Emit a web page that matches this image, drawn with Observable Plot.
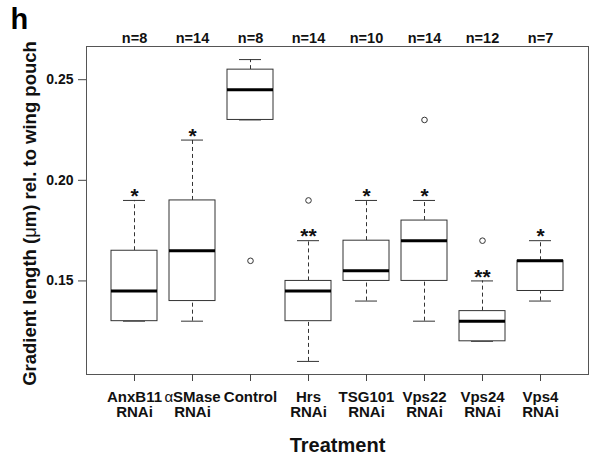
<!DOCTYPE html>
<html>
<head>
<meta charset="utf-8">
<script src="https://cdn.jsdelivr.net/npm/d3@7"></script>
<script src="https://cdn.jsdelivr.net/npm/@observablehq/plot@0.6"></script>
<style>
  html, body { margin: 0; padding: 0; background: #ffffff; }
</style>
</head>
<body>
<div id="chart"></div>
<script>
// ---- data ----
const treatments  = ["AnxB11", "αSMase", "Control", "Hrs", "TSG101", "Vps22", "Vps24", "Vps4"];
const tickLabels  = ["AnxB11\nRNAi", "αSMase\nRNAi", "Control", "Hrs\nRNAi", "TSG101\nRNAi", "Vps22\nRNAi", "Vps24\nRNAi", "Vps4\nRNAi"];
const nCounts     = [8, 14, 8, 14, 10, 14, 12, 7];
const whiskerLow  = [0.13, 0.13, 0.23, 0.11, 0.14, 0.13, 0.12, 0.14];
const q1          = [0.13, 0.14, 0.23, 0.13, 0.15, 0.15, 0.12, 0.145];
const medians     = [0.145, 0.165, 0.245, 0.145, 0.155, 0.17, 0.13, 0.16];
const q3          = [0.165, 0.19, 0.255, 0.15, 0.17, 0.18, 0.135, 0.16];
const whiskerHigh = [0.19, 0.22, 0.26, 0.17, 0.19, 0.19, 0.15, 0.17];
const significance = ["*", "*", "", "**", "*", "*", "**", "*"];
const outlierTreatment = ["Control", "Hrs", "Vps22", "Vps24"];
const outlierValue     = [0.16, 0.19, 0.23, 0.17];
const yTicks = [0.15, 0.20, 0.25];
const yTitle = "Gradient length (μm) rel. to wing pouch";
const xTitle = "Treatment";
const panelLetter = "h";

// ---- tables built from the arrays ----
const stats = treatments.map((t, i) => ({
  treatment: t, lo: whiskerLow[i], q1: q1[i], med: medians[i], q3: q3[i], hi: whiskerHigh[i],
  sig: significance[i], n: nCounts[i], label: tickLabels[i]
}));
const outliers = outlierTreatment.map((t, i) => ({treatment: t, value: outlierValue[i]}));

const FONT = "'Liberation Sans', Arial, Helvetica, sans-serif";
const boxStroke = "#333";

const chart = Plot.plot({
  width: 594,
  height: 459,
  marginLeft: 86,
  marginRight: 6,
  marginTop: 46,
  marginBottom: 85,
  style: {fontFamily: FONT, background: "#ffffff", color: "#111"},
  x: {type: "band", domain: treatments, paddingInner: 0.2, paddingOuter: 0.42, align: 0.5, axis: null},
  y: {domain: [0.1035, 0.2665], axis: null},
  marks: [
    Plot.frame({stroke: "#555", strokeWidth: 1}),
    // y axis
    Plot.axisY({
      ticks: yTicks, tickFormat: d3.format(".2f"), tickSize: 8, tickPadding: 5,
      fontSize: 14, fontWeight: "bold", stroke: "#444", label: null
    }),
    // bottom axis with two-line labels
    Plot.axisX({
      anchor: "bottom", tickSize: 7, tickPadding: 9,
      tickFormat: d => tickLabels[treatments.indexOf(d)],
      fontSize: 15, fontWeight: "bold", stroke: "#444", label: null, lineHeight: 1.05
    }),
    // top axis: sample sizes
    Plot.axisX({
      anchor: "top", tickSize: 0, tickPadding: 4,
      tickFormat: d => "n=" + nCounts[treatments.indexOf(d)],
      fontSize: 14.5, fontWeight: "bold", label: null
    }),
    // whiskers (dashed)
    Plot.ruleX(stats, {x: "treatment", y1: "lo", y2: "q1", stroke: boxStroke, strokeWidth: 1, strokeDasharray: "4,3"}),
    Plot.ruleX(stats, {x: "treatment", y1: "q3", y2: "hi", stroke: boxStroke, strokeWidth: 1, strokeDasharray: "4,3"}),
    // staples
    Plot.tickY(stats, {x: "treatment", y: "lo", stroke: boxStroke, strokeWidth: 1, insetLeft: 12, insetRight: 12}),
    Plot.tickY(stats, {x: "treatment", y: "hi", stroke: boxStroke, strokeWidth: 1, insetLeft: 12, insetRight: 12}),
    // boxes
    Plot.barY(stats, {x: "treatment", y1: "q1", y2: "q3", fill: "#ffffff", stroke: boxStroke, strokeWidth: 1, inset: 0}),
    // medians
    Plot.tickY(stats, {x: "treatment", y: "med", stroke: "#000", strokeWidth: 3}),
    // outliers
    Plot.dot(outliers, {x: "treatment", y: "value", r: 2.8, stroke: boxStroke, strokeWidth: 1, fill: "none"}),
    // significance stars
    Plot.text(stats, {x: "treatment", y: "hi", text: "sig", fontSize: 21, fontWeight: "bold", fill: "#111", lineAnchor: "middle", dy: -4}),
    // axis titles and panel letter
    Plot.text([xTitle], {frameAnchor: "bottom", dy: 77, lineAnchor: "bottom", fontSize: 20, fontWeight: "bold", fill: "#111"}),
    Plot.text([yTitle], {frameAnchor: "left", rotate: -90, dx: -51, dy: 3, lineAnchor: "bottom", textAnchor: "middle", fontSize: 18.5, fontWeight: "bold", fill: "#111"}),
    Plot.text([panelLetter], {frameAnchor: "top-left", dx: -76, dy: -18, lineAnchor: "bottom", textAnchor: "start", fontSize: 29, fontWeight: "bold", fill: "#000"})
  ]
});
document.getElementById("chart").append(chart);

// Greek letters in the reference are set in a regular-weight symbol face
const walker = document.createTreeWalker(chart, NodeFilter.SHOW_TEXT);
const textNodes = [];
while (walker.nextNode()) textNodes.push(walker.currentNode);
textNodes.forEach(node => {
  const s = node.nodeValue;
  if (!/[αμ]/.test(s)) return;
  const parent = node.parentNode;
  s.split(/([αμ])/).forEach(part => {
    if (!part) return;
    if (/[αμ]/.test(part)) {
      const t = document.createElementNS("http://www.w3.org/2000/svg", "tspan");
      t.setAttribute("font-weight", "normal");
      t.textContent = part;
      parent.insertBefore(t, node);
    } else {
      parent.insertBefore(document.createTextNode(part), node);
    }
  });
  parent.removeChild(node);
});
</script>
</body>
</html>
